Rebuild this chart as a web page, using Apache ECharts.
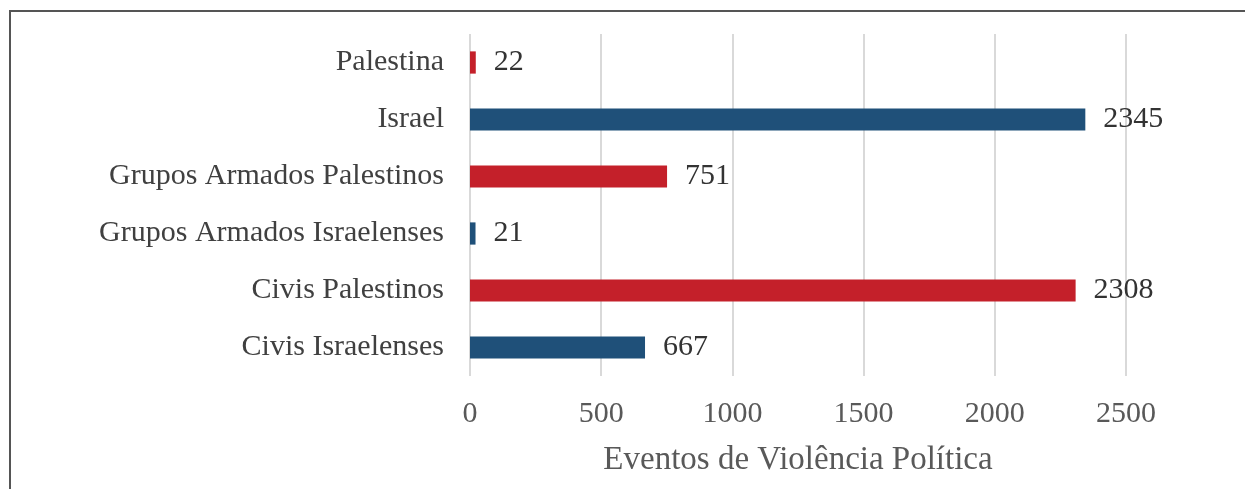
<!DOCTYPE html>
<html><head><meta charset="utf-8">
<script src="https://cdn.jsdelivr.net/npm/echarts@6/dist/echarts.min.js"></script>
<style>html,body{margin:0;padding:0;background:#fff}#c{width:1245px;height:489px}</style>
</head><body><div id="c"></div>
<script>
const categories = ["Civis Israelenses","Civis Palestinos","Grupos Armados Israelenses","Grupos Armados Palestinos","Israel","Palestina"];
const values = [667, 2308, 21, 751, 2345, 22];
const colors = ["#1F5079","#C4202A","#1F5079","#C4202A","#1F5079","#C4202A"];
const axisTitle = "Eventos de Violência Política";

const chart = echarts.init(document.getElementById('c'), null, {renderer:'canvas'});
const font = "'Liberation Serif','Times New Roman',serif";
chart.setOption({
  animation:false,
  graphic:[{type:'rect',shape:{x:10,y:11,width:1260,height:500},style:{fill:'none',stroke:'#555',lineWidth:2},z:-1}],
  grid:{left:470,right:119,top:34,bottom:113},
  xAxis:{type:'value',min:0,max:2500,interval:500,
    name:axisTitle,nameLocation:'middle',nameGap:68,
    nameTextStyle:{fontFamily:font,fontSize:33,color:'#595959'},
    axisLabel:{fontFamily:font,fontSize:30,color:'#595959',margin:23,formatter:v=>String(v)},
    axisLine:{show:false},axisTick:{show:false},
    splitLine:{lineStyle:{color:'#D9D9D9',width:2}}},
  yAxis:{type:'category',data:categories,
    axisLabel:{fontFamily:font,fontSize:30,color:'#404040',margin:26,padding:[4,0,0,0]},
    axisLine:{show:false},axisTick:{show:false}},
  series:[{type:'bar',data:values.map((v,i)=>({value:v,itemStyle:{color:colors[i]}})),
    barCategoryGap:'61%',
    label:{show:true,position:'right',distance:18,padding:[4,0,0,0],fontFamily:font,fontSize:30,color:'#333'}}]
});
</script></body></html>
